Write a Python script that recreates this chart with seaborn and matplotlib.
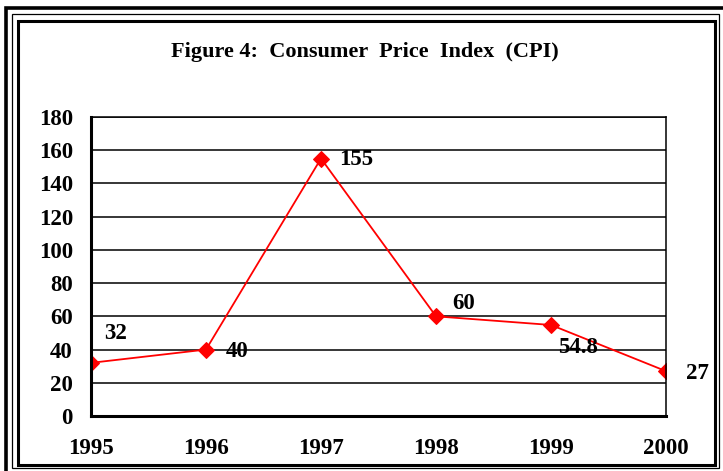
import matplotlib
matplotlib.use("Agg")
import matplotlib.pyplot as plt
from matplotlib.patches import Rectangle
import seaborn as sns

# Data
years = [1995, 1996, 1997, 1998, 1999, 2000]
cpi = [32, 40, 155, 60, 54.8, 27]
labels = ["32", "40", "155", "60", "54.8", "27"]
# label offsets in pixels (dx, dy)
label_offsets = [(25, 29), (31, -2), (35, -1), (28, 13), (27, -23), (31, -2)]

sns.set_style("white")
plt.rcParams["font.family"] = ["Liberation Serif", "DejaVu Serif"]
plt.rcParams["font.weight"] = "bold"
plt.rcParams["text.color"] = "black"
plt.rcParams["xtick.color"] = "black"
plt.rcParams["ytick.color"] = "black"

W, H = 723, 471
fig = plt.figure(figsize=(W / 100, H / 100), dpi=100)
ax = fig.add_axes([91 / W, 1 - 416 / H, (666 - 91) / W, (416 - 117) / H])

sns.lineplot(x=years, y=cpi, ax=ax, color="#ff0000", linewidth=1.3,
             marker="D", markersize=8.5, markeredgecolor="#ff0000")

for x, y, txt, (dx, dy) in zip(years, cpi, labels, label_offsets):
    ax.annotate(txt, (x, y), xytext=(dx, dy), textcoords="offset pixels",
                ha="center", va="center", fontsize=16.5, fontweight="bold",
                color="black")

ax.set_xlim(1995, 2000)
ax.set_ylim(0, 180)
ax.set_xticks(years)
ax.set_xticklabels([str(y) for y in years])
ax.set_yticks(range(0, 181, 20))
ax.yaxis.grid(True, color="black", linewidth=1.1)
ax.set_axisbelow(True)
for side in ["left", "bottom"]:
    ax.spines[side].set_linewidth(2.2)
    ax.spines[side].set_color("black")
for side in ["top", "right"]:
    ax.spines[side].set_linewidth(1.1)
    ax.spines[side].set_color("black")
ax.tick_params(axis="both", direction="out", length=5, width=1.5, color="black",
               labelcolor="black", labelsize=16.5)
ax.tick_params(axis="y", pad=8)
ax.tick_params(axis="x", pad=11)
for t in ax.get_xticklabels() + ax.get_yticklabels():
    t.set_fontweight("bold")

fig.text(365 / W, 1 - 52 / H, "Figure 4:  Consumer  Price  Index  (CPI)",
         ha="center", va="center", fontsize=16, fontweight="bold", color="black")


# triple frame around the chart
def frame(l, t, r, b, lw):
    fig.add_artist(Rectangle((l / W, 1 - b / H), (r - l) / W, (b - t) / H,
                             transform=fig.transFigure, fill=False,
                             edgecolor="black", linewidth=lw))


frame(6.5, 8, 726, 473, 2.6)
frame(11.5, 13.5, 719, 468, 0.9)
frame(17.5, 20.5, 715, 464.5, 2.2)

fig.savefig("out.png", dpi=100)
